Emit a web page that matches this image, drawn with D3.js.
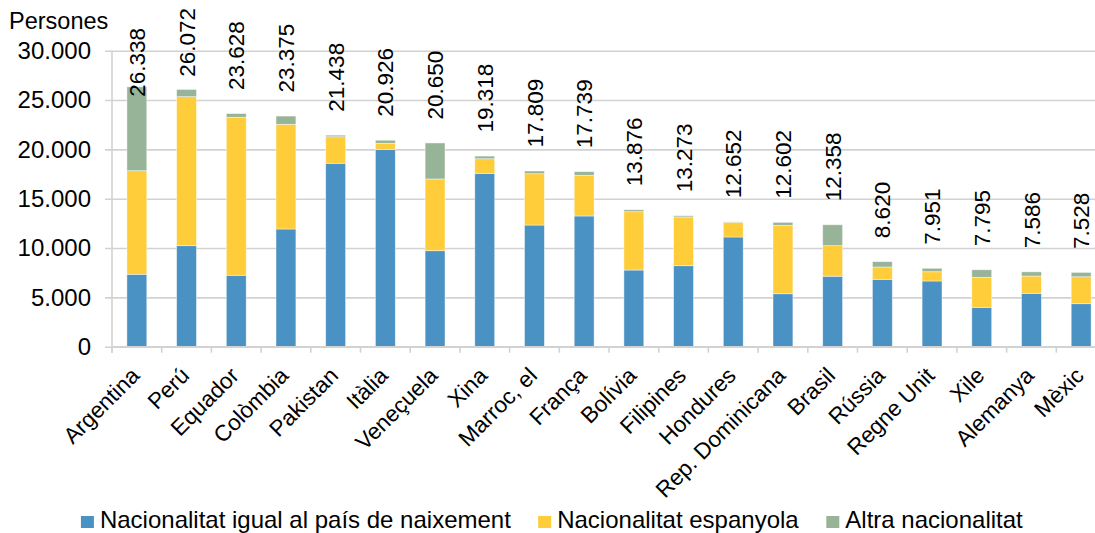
<!DOCTYPE html>
<html>
<head>
<meta charset="utf-8">
<script src="https://cdn.jsdelivr.net/npm/d3@7"></script>
<style>
  body { margin: 0; background: #fff; }
  #chart { width: 1095px; height: 533px; overflow: hidden; }
  text { font-family: "Liberation Sans", Arial, sans-serif; fill: #000; }
</style>
</head>
<body>
<div id="chart"></div>
<script>
var countries = ["Argentina", "Perú", "Equador", "Colòmbia", "Pakistan", "Itàlia", "Veneçuela", "Xina",
  "Marroc, el", "França", "Bolívia", "Filipines", "Hondures", "Rep. Dominicana", "Brasil", "Rússia",
  "Regne Unit", "Xile", "Alemanya", "Mèxic"];
var totals = [26338, 26072, 23628, 23375, 21438, 20926, 20650, 19318, 17809, 17739, 13876, 13273,
  12652, 12602, 12358, 8620, 7951, 7795, 7586, 7528];
var sameNat = [7340, 10240, 7240, 11930, 18590, 20000, 9730, 17570, 12330, 13250, 7770, 8210,
  11120, 5370, 7140, 6830, 6660, 3990, 5410, 4360];
var spanishNat = [10500, 15100, 16010, 10610, 2690, 610, 7270, 1480, 5200, 4120, 5910, 4940,
  1490, 6930, 3100, 1250, 940, 3040, 1750, 2730];
// la resta del total es "altra nacionalitat"
var otherNat = totals.map(function(t, i) { return t - sameNat[i] - spanishNat[i]; });

var seriesNames = ["Nacionalitat igual al país de naixement", "Nacionalitat espanyola", "Altra nacionalitat"];
var seriesColors = ["#4a91c4", "#ffcc3a", "#98b498"];
var yTicks = [0, 5000, 10000, 15000, 20000, 25000, 30000];

var W = 1095, H = 533;
var plot = { left: 112, right: 1106, top: 50.7, bottom: 346.7 };

var locale = d3.formatLocale({ decimal: ",", thousands: ".", grouping: [3], currency: ["", "€"] });
var fmt = locale.format(",d");

var svg = d3.select("#chart").append("svg")
  .attr("width", W)
  .attr("height", H);

var x = d3.scaleBand()
  .domain(countries)
  .range([plot.left, plot.right])
  .paddingInner(0.6)
  .paddingOuter(0.3);

var y = d3.scaleLinear()
  .domain([0, 30000])
  .range([plot.bottom, plot.top]);

/* gridlines + y labels */
var yAxis = svg.append("g")
  .attr("transform", "translate(" + plot.left + ",0)")
  .call(d3.axisLeft(y)
    .tickValues(yTicks)
    .tickSize(-(plot.right - plot.left))
    .tickSizeOuter(0)
    .tickPadding(21)
    .tickFormat(fmt));
yAxis.select(".domain").remove();
yAxis.selectAll(".tick line")
  .attr("x1", -7)
  .attr("stroke", "#d2d2d2")
  .attr("stroke-width", 1.6);
yAxis.selectAll(".tick text")
  .style("font-size", "24px")
  .style("font-family", "'Liberation Sans', Arial, sans-serif");

svg.append("line")
  .attr("x1", plot.left).attr("x2", plot.left)
  .attr("y1", plot.top).attr("y2", plot.bottom + 6)
  .attr("stroke", "#d2d2d2")
  .attr("stroke-width", 1.6);

svg.append("text")
  .attr("x", 9)
  .attr("y", 29)
  .style("font-size", "23.5px")
  .text("Persones");

/* stacked bars */
var stackRows = countries.map(function(c, i) {
  return { country: c, s0: sameNat[i], s1: spanishNat[i], s2: otherNat[i] };
});
var stacked = d3.stack().keys(["s0", "s1", "s2"])(stackRows);

var barsG = svg.append("g");
barsG.selectAll("g")
  .data(stacked)
  .enter().append("g")
  .attr("fill", function(d, i) { return seriesColors[i]; })
  .selectAll("rect")
  .data(function(d) { return d; })
  .enter().append("rect")
  .attr("x", function(d) { return x(d.data.country); })
  .attr("width", x.bandwidth())
  .attr("y", function(d) { return y(d[1]); })
  .attr("height", function(d) { return y(d[0]) - y(d[1]); })
  .attr("stroke", "#fff")
  .attr("stroke-opacity", 0.55)
  .attr("stroke-width", 0.8);

/* x axis line and ticks */
svg.append("line")
  .attr("x1", plot.left).attr("x2", plot.right)
  .attr("y1", plot.bottom).attr("y2", plot.bottom)
  .attr("stroke", "#d2d2d2")
  .attr("stroke-width", 1.6);

var step = x.step();
svg.append("g").selectAll("line")
  .data(d3.range(countries.length + 1))
  .enter().append("line")
  .attr("x1", function(i) { return plot.left + i * step; })
  .attr("x2", function(i) { return plot.left + i * step; })
  .attr("y1", plot.bottom)
  .attr("y2", plot.bottom + 6)
  .attr("stroke", "#d2d2d2")
  .attr("stroke-width", 1.6);

/* category labels */
svg.append("g").selectAll("text")
  .data(countries)
  .enter().append("text")
  .attr("text-anchor", "end")
  .attr("transform", function(d) {
    return "translate(" + (x(d) + x.bandwidth() / 2 + 4) + "," + 377 + ") rotate(-45)";
  })
  .style("font-size", "22.5px")
  .text(function(d) { return d; });

/* total labels, vertical */
var labelGap = 23.5;
var labels = svg.append("g").selectAll("text")
  .data(countries)
  .enter().append("text")
  .attr("text-anchor", "start")
  .attr("dy", "0.36em")
  .style("font-size", "22.5px")
  .text(function(d, i) { return fmt(totals[i]); });

labels.attr("transform", function(d, i) {
  var len = this.getComputedTextLength();
  var top = y(totals[i]);
  var bottom = top - labelGap;
  if (bottom - len < -5) {
    bottom = top + 10;
  } else if (bottom - len < 8) {
    bottom = 8 + len;
  }
  return "translate(" + (x(d) + x.bandwidth() / 2) + "," + bottom + ") rotate(-90)";
});

/* legend */
var legend = svg.append("g");
var items = legend.selectAll("g")
  .data(seriesNames)
  .enter().append("g");
items.append("rect")
  .attr("width", 13)
  .attr("height", 12)
  .attr("y", -12)
  .attr("fill", function(d, i) { return seriesColors[i]; });
items.append("text")
  .attr("x", 19)
  .style("font-size", "24px")
  .text(function(d) { return d; });

var widths = [];
items.each(function() { widths.push(this.getBBox().width); });
var legendGap = 27;
var totalW = d3.sum(widths) + legendGap * (widths.length - 1);
var cursor = 552 - totalW / 2;
items.attr("transform", function(d, i) {
  var t = "translate(" + cursor + ",528)";
  cursor += widths[i] + legendGap;
  return t;
});
</script>
</body>
</html>
